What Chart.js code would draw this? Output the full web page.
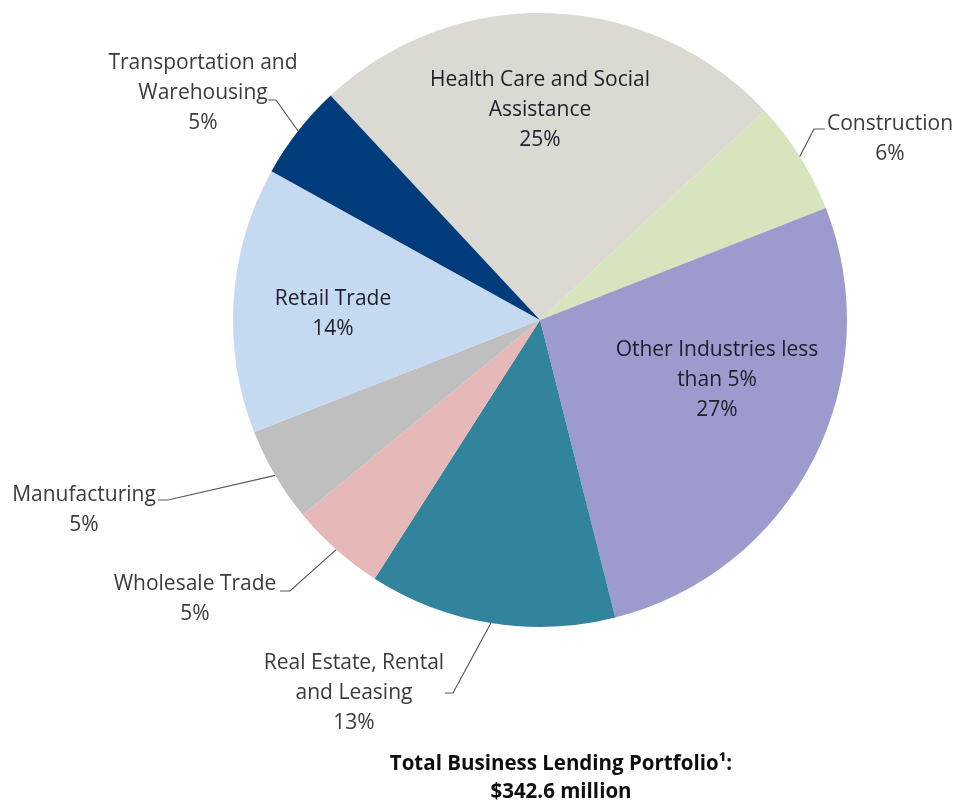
<!DOCTYPE html>
<html lang="en">
<head>
    <meta charset="UTF-8">
    <title>Total Business Lending Portfolio</title>
    <script src="https://cdn.jsdelivr.net/npm/chart.js"></script>
    <style>
        html, body { margin: 0; padding: 0; background: #fff; }
        canvas { display: block; }
    </style>
</head>
<body>
    <canvas id="portfolioChart" width="957" height="806"></canvas>

    <script>
        // Industry shares of the business lending portfolio (percent)
        const industries = [
            'Health Care and Social Assistance',
            'Construction',
            'Other Industries less than 5%',
            'Real Estate, Rental and Leasing',
            'Wholesale Trade',
            'Manufacturing',
            'Retail Trade',
            'Transportation and Warehousing'
        ];
        const shares = [25, 6, 27, 13, 5, 5, 14, 5];
        const sliceColors = ['#dcd9d2', '#d7e4bd', '#9d9bcd', '#31849b', '#e6b9b8', '#bfbfbf', '#c5d9f1', '#003b7c'];
        const titleLines = ['Total Business Lending Portfolio\u00b9:', '$342.6 million'];

        // label text broken into lines, one entry per slice
        const labelLines = [
            ['Health Care and Social', 'Assistance'],
            ['Construction'],
            ['Other Industries less', 'than 5%'],
            ['Real Estate, Rental', 'and Leasing'],
            ['Wholesale Trade'],
            ['Manufacturing'],
            ['Retail Trade'],
            ['Transportation and', 'Warehousing']
        ];

        // where each label sits, relative to the pie centre
        // inside labels: x/y of first line; outside labels also get a leader (elbow + tail)
        const labelLayout = [
            { inside: true, x: 0, y: -240 },
            { x: 350, y: -196, tail: [285, -191], elbow: [274, -191] },
            { inside: true, x: 177, y: 30 },
            { x: -186, y: 343, tail: [-95, 373], elbow: [-87, 373] },
            { x: -345, y: 264, tail: [-260, 271], elbow: [-250, 271] },
            { x: -456, y: 175, tail: [-382, 180], elbow: [-372, 180] },
            { inside: true, x: -207, y: -21 },
            { x: -337, y: -257, tail: [-272, -220], elbow: [-264, -220] }
        ];

        const FONT = '"Open Sans", Lato, sans-serif';
        const LINE_H = 30;

        const labelPlugin = {
            id: 'sliceLabels',
            afterDatasetsDraw(chart) {
                const ctx = chart.ctx;
                const arcs = chart.getDatasetMeta(0).data;
                ctx.save();
                ctx.textAlign = 'center';
                ctx.textBaseline = 'middle';
                ctx.font = '21px ' + FONT;

                arcs.forEach((arc, i) => {
                    const cx = arc.x, cy = arc.y;
                    const lay = labelLayout[i];
                    const lines = labelLines[i].concat([shares[i] + '%']);

                    if (!lay.inside) {
                        // leader line from the rim at the slice middle
                        const mid = (arc.startAngle + arc.endAngle) / 2;
                        const r = arc.outerRadius;
                        ctx.strokeStyle = '#595959';
                        ctx.lineWidth = 1.2;
                        ctx.beginPath();
                        ctx.moveTo(cx + Math.cos(mid) * r, cy + Math.sin(mid) * r);
                        ctx.lineTo(cx + lay.elbow[0], cy + lay.elbow[1]);
                        ctx.lineTo(cx + lay.tail[0], cy + lay.tail[1]);
                        ctx.stroke();
                    }

                    ctx.fillStyle = lay.inside ? '#1e1e2c' : '#3b3b3b';
                    lines.forEach((t, k) => {
                        ctx.fillText(t, cx + lay.x, cy + lay.y + k * LINE_H);
                    });
                });

                // portfolio total underneath the pie
                const area = chart.chartArea;
                const pieCx = (area.left + area.right) / 2;
                ctx.fillStyle = '#0d0d0d';
                ctx.font = 'bold 20.5px ' + FONT;
                ctx.fillText(titleLines[0], pieCx + 21, area.bottom + 137);
                ctx.fillText(titleLines[1], pieCx + 21, area.bottom + 165);
                ctx.restore();
            }
        };

        new Chart(document.getElementById('portfolioChart'), {
            type: 'pie',
            data: {
                labels: industries,
                datasets: [{
                    data: shares,
                    backgroundColor: sliceColors,
                    borderWidth: 0
                }]
            },
            options: {
                responsive: false,
                animation: false,
                rotation: -43,
                events: [],
                layout: { padding: { left: 233, right: 110, top: 13, bottom: 179 } },
                plugins: {
                    legend: { display: false },
                    tooltip: { enabled: false }
                }
            },
            plugins: [labelPlugin]
        });
    </script>
</body>
</html>
